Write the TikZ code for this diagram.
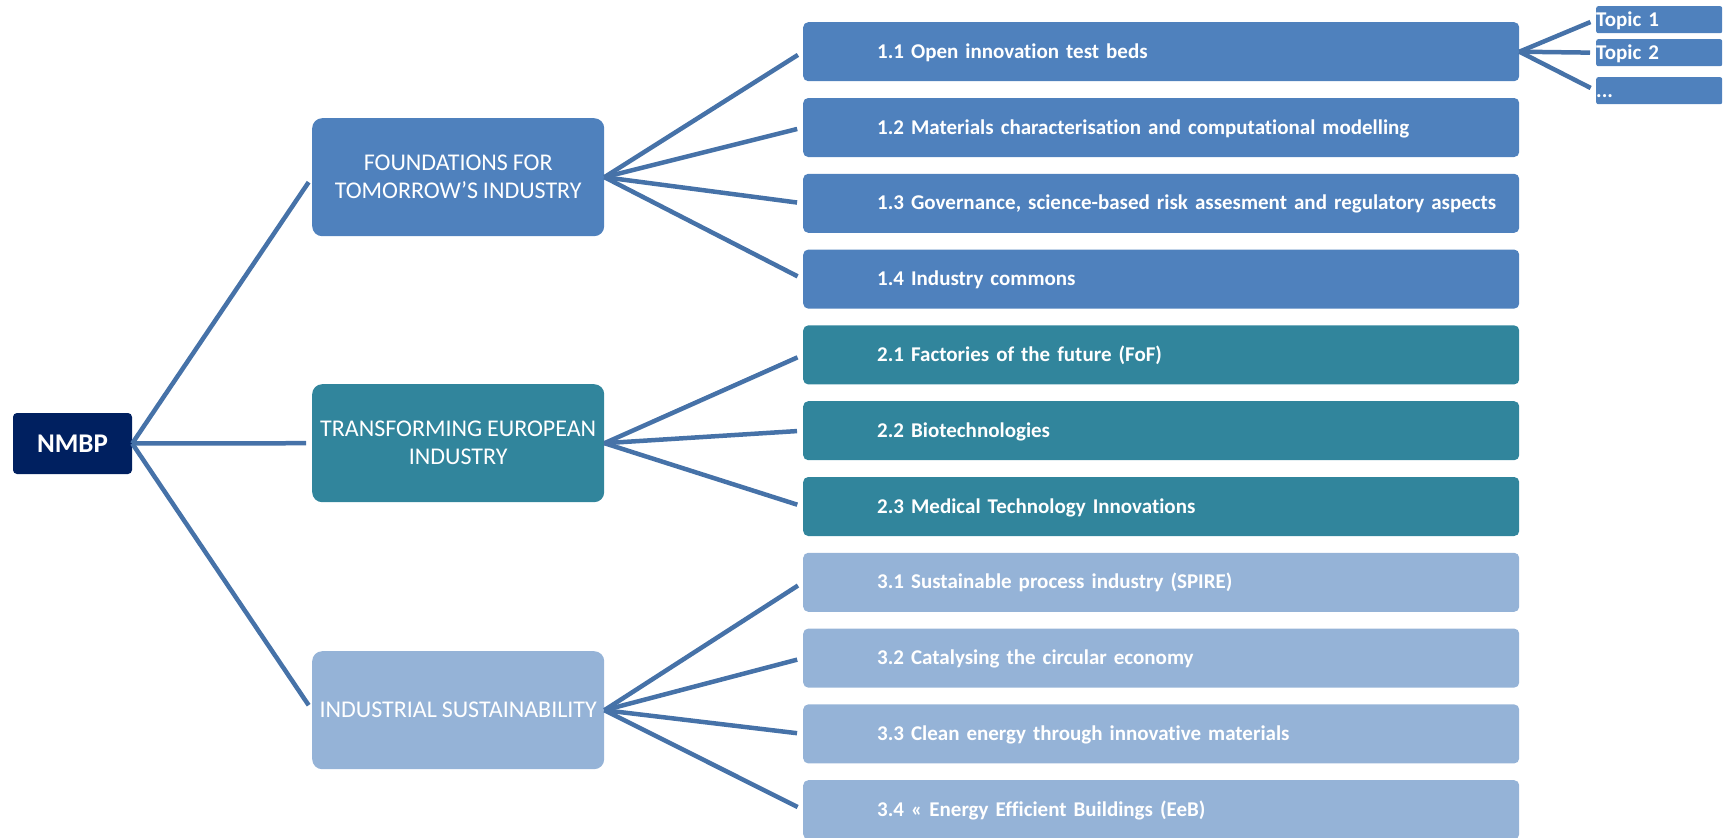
\documentclass[tikz,border=0pt]{standalone}
\usepackage{fontspec}
\setmainfont{Carlito}[Ligatures=NoCommon,WordSpace=0.9]
\usepackage{tikz}
\usetikzlibrary{shapes}
\definecolor{nmbpblue}{RGB}{0,32,96}
\definecolor{fndblue}{RGB}{79,129,189}
\definecolor{trfteal}{RGB}{49,133,156}
\definecolor{susblue}{RGB}{149,179,215}
\definecolor{linkblue}{RGB}{70,114,168}

\begin{document}
\begin{tikzpicture}[x=1pt,y=-1pt]

	\tikzstyle{pillar}=[rectangle,rounded corners=10pt,text=white,align=center,anchor=north west,minimum width=292pt,minimum height=118pt,font=\fontsize{24}{28}\selectfont]
	\tikzstyle{area}=[rectangle,rounded corners=5pt,text=white,anchor=north west,minimum width=716pt,minimum height=59pt,inner xsep=0pt,text width=716pt,align=left,text height=13pt,text depth=0pt,execute at begin node={\hspace*{74pt}},font=\bfseries\fontsize{21}{26}\selectfont]
	\tikzstyle{topic}=[rectangle,rounded corners=2pt,fill=fndblue,text=white,anchor=north west,minimum width=126pt,minimum height=27pt,inner xsep=0pt,text width=126pt,align=left,text height=13pt,text depth=0pt,font=\bfseries\fontsize{21}{25}\selectfont]
	\tikzstyle{link}=[draw=linkblue,line width=4.5pt,shorten >=6pt]

	\useasboundingbox (0,0) rectangle (1727,838);

	\node[rectangle,rounded corners=4pt,fill=nmbpblue,text=white,minimum width=119pt,minimum height=61pt,font=\bfseries\fontsize{27}{32}\selectfont] (nmbp) at (72.5,443.5) {NMBP};

	\node[pillar,fill=fndblue] (fnd) at (312,118) {FOUNDATIONS FOR\\TOMORROW’S INDUSTRY};
	\node[pillar,fill=trfteal] (trf) at (312,384) {TRANSFORMING EUROPEAN\\INDUSTRY};
	\node[pillar,fill=susblue] (sus) at (312,651) {INDUSTRIAL SUSTAINABILITY};

	\node[area,fill=fndblue] (a11) at (803,22) {1.1 Open innovation test beds};
	\node[area,fill=fndblue] (a12) at (803,97.8) {1.2 Materials characterisation and computational modelling};
	\node[area,fill=fndblue] (a13) at (803,173.6) {1.3 Governance, science-based risk assesment and regulatory aspects};
	\node[area,fill=fndblue] (a14) at (803,249.4) {1.4 Industry commons};

	\node[area,fill=trfteal] (a21) at (803,325.2) {2.1 Factories of the future (FoF)};
	\node[area,fill=trfteal] (a22) at (803,401) {2.2 Biotechnologies};
	\node[area,fill=trfteal] (a23) at (803,476.8) {2.3 Medical Technology Innovations};

	\node[area,fill=susblue] (a31) at (803,552.6) {3.1 Sustainable process industry (SPIRE)};
	\node[area,fill=susblue] (a32) at (803,628.4) {3.2 Catalysing the circular economy};
	\node[area,fill=susblue] (a33) at (803,704.2) {3.3 Clean energy through innovative materials};
	\node[area,fill=susblue] (a34) at (803,780) {3.4 « Energy Efficient Buildings (EeB)};

	\node[topic] (tp1) at (1596,6) {Topic 1};
	\node[topic] (tp2) at (1596,39) {Topic 2};
	\node[topic] (tp3) at (1596,77) {...};

	\draw[link] (nmbp.east) -- (fnd.west);
	\draw[link] (nmbp.east) -- (trf.west);
	\draw[link] (nmbp.east) -- (sus.west);

	\draw[link] (fnd.east) -- (a11.west);
	\draw[link] (fnd.east) -- (a12.west);
	\draw[link] (fnd.east) -- (a13.west);
	\draw[link] (fnd.east) -- (a14.west);

	\draw[link] (trf.east) -- (a21.west);
	\draw[link] (trf.east) -- (a22.west);
	\draw[link] (trf.east) -- (a23.west);

	\draw[link] (sus.east) -- (a31.west);
	\draw[link] (sus.east) -- (a32.west);
	\draw[link] (sus.east) -- (a33.west);
	\draw[link] (sus.east) -- (a34.west);

	\draw[link] (a11.east) -- (tp1.west);
	\draw[link] (a11.east) -- (tp2.west);
	\draw[link] (a11.east) -- (tp3.west);

\end{tikzpicture}
\end{document}
